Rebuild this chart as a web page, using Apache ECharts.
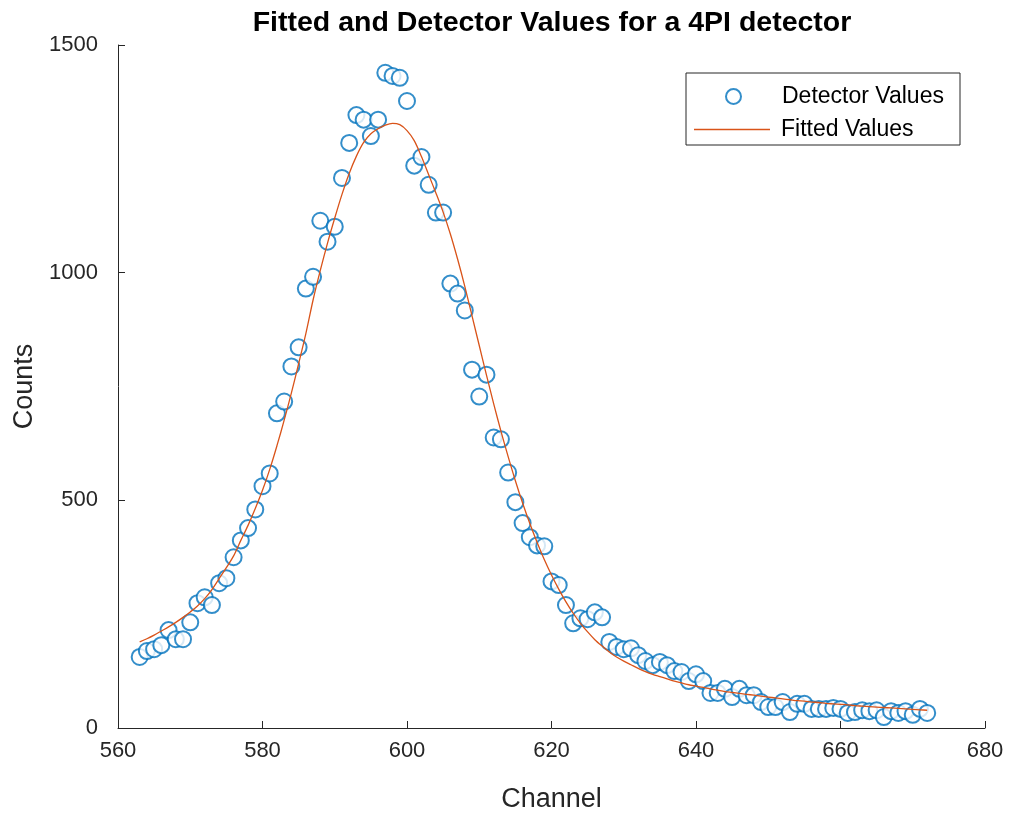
<!DOCTYPE html>
<html>
<head>
<meta charset="utf-8">
<script src="https://cdn.jsdelivr.net/npm/echarts@6/dist/echarts.min.js"></script>
<style>html,body{margin:0;padding:0;background:#fff}#c{width:1011px;height:818px}</style>
</head>
<body>
<div id="c"></div>
<script>
const channels = [];
for (let c = 563; c <= 672; c++) channels.push(c);

const detectorValues = [
 156,169,173,182,215,195,195,232,274,287,
 270,318,329,375,412,439,480,531,559,691,
 717,794,836,965,991,1114,1068,1101,1208,1285,
 1346,1336,1300,1336,1439,1432,1428,1377,1235,1254,
 1193,1132,1132,976,954,917,787,728,776,638,
 634,561,496,450,419,401,399,322,314,270,
 230,241,239,254,243,189,178,173,175,160,
 147,138,145,138,125,123,103,118,103,77,
 77,86,68,86,72,72,57,46,46,57,
 35,53,53,42,42,42,44,42,33,35,
 39,37,39,24,37,33,37,29,42,33
];

const fittedValues = [
 189,196,204,213,222,232,243,255,268,284,
 304,328,352,378,412,445,482,522,568,620,
 676,736,800,866,940,1005,1065,1120,1172,1218,
 1256,1286,1305,1316,1324,1328,1325,1312,1290,1255,
 1215,1175,1133,1085,1030,970,905,840,775,712,
 652,596,543,494,449,408,370,336,305,277,
 252,230,211,194,180,167,156,147,139,131,
 124,118,113,108,103,99,95,92,89,86,
 83,80,78,76,74,72,70,68,66,64,
 62,60,59,57,56,54,53,52,51,49,
 48,47,46,45,44,43,42,41,40,39
];

const xTicks = [560, 580, 600, 620, 640, 660, 680];
const yTicks = [0, 500, 1000, 1500];

const chart = echarts.init(document.getElementById('c'), null, {renderer: 'canvas'});
const font = 'Liberation Sans, Arial, Helvetica, sans-serif';
const axisColor = '#262626';

chart.setOption({
  backgroundColor: '#ffffff',
  animation: false,
  title: {
    text: 'Fitted and Detector Values for a 4PI detector',
    left: 552, top: 9, textAlign: 'center', padding: 0,
    textStyle: {fontFamily: font, fontSize: 28.5, fontWeight: 'bold', color: '#000'}
  },
  grid: {left: 118, right: 26, top: 45, bottom: 89, containLabel: false},
  legend: [{
    data: [{name: 'Detector Values', icon: 'emptyCircle'}],
    left: 725, top: 85, padding: 0, itemWidth: 15, itemHeight: 15,
    textStyle: {fontFamily: font, fontSize: 23, color: '#000', padding: [0,0,0,36]},
    selectedMode: false
  }, {
    data: [{name: 'Fitted Values', icon: 'rect'}],
    left: 694, top: 118, padding: 0, itemWidth: 76, itemHeight: 1.5,
    itemStyle: {color: '#D95319'},
    textStyle: {fontFamily: font, fontSize: 23, color: '#000', padding: [0,0,0,6]},
    selectedMode: false
  }],
  graphic: [{
    type: 'rect', shape: {x: 686, y: 73, width: 274, height: 72},
    style: {fill: 'rgba(0,0,0,0)', stroke: axisColor, lineWidth: 1}, z: 100, silent: true
  }],
  xAxis: {
    type: 'value', min: 560, max: 680, interval: 20,
    name: 'Channel', nameLocation: 'middle', nameGap: 58,
    nameTextStyle: {fontFamily: font, fontSize: 27, color: axisColor},
    axisLine: {show: true, lineStyle: {color: axisColor, width: 1}},
    axisTick: {show: true, inside: true, length: 7, lineStyle: {color: axisColor}},
    axisLabel: {fontFamily: font, fontSize: 22, color: axisColor, margin: 12,
      formatter: v => xTicks.includes(v) ? String(v) : ''},
    splitLine: {show: false}
  },
  yAxis: {
    type: 'value', min: 0, max: 1500, interval: 500,
    name: 'Counts', nameLocation: 'middle', nameGap: 76, nameRotate: 90,
    nameTextStyle: {fontFamily: font, fontSize: 27, color: axisColor},
    axisLine: {show: true, lineStyle: {color: axisColor, width: 1}},
    axisTick: {show: true, inside: true, length: 7, lineStyle: {color: axisColor}},
    axisLabel: {fontFamily: font, fontSize: 22, color: axisColor, margin: 20,
      formatter: v => yTicks.includes(v) ? String(v) : ''},
    splitLine: {show: false}
  },
  series: [{
    name: 'Detector Values', type: 'scatter',
    data: channels.map((c, i) => [c, detectorValues[i]]),
    symbol: 'emptyCircle', symbolSize: 16,
    itemStyle: {color: '#0072BD', borderColor: '#0072BD', borderWidth: 1.5},
    z: 2
  }, {
    name: 'Fitted Values', type: 'line',
    data: channels.map((c, i) => [c, fittedValues[i]]),
    showSymbol: false, symbol: 'none', smooth: 0.3,
    lineStyle: {color: '#D95319', width: 1.3},
    itemStyle: {color: '#D95319'},
    z: 3
  }]
});
</script>
</body>
</html>
